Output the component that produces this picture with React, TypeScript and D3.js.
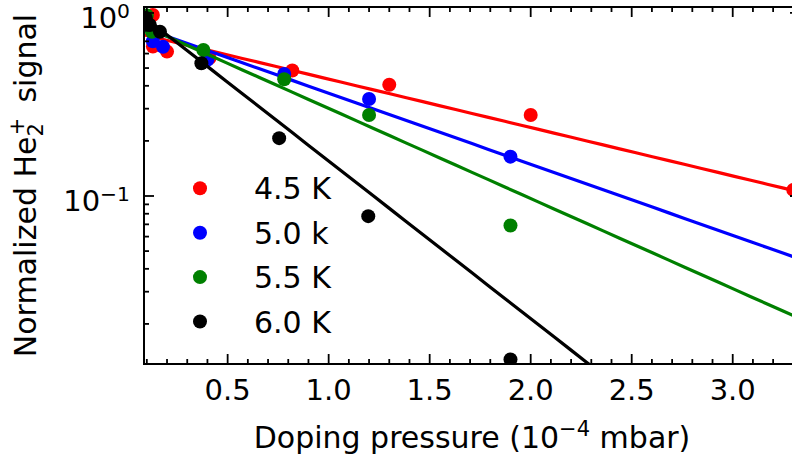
import React from "react";
import * as d3 from "d3";

// Measured He2+ signal vs. doping pressure (1e-4 mbar), one array per temperature
const red45X = [0.13, 0.13, 0.2, 0.41, 0.82, 1.3, 2.0, 3.3];
const red45Y = [0.975, 0.655, 0.615, 0.567, 0.485, 0.405, 0.277, 0.108];
const blue50X = [0.13, 0.18, 0.4, 0.78, 1.2, 1.9];
const blue50Y = [0.7, 0.654, 0.555, 0.464, 0.339, 0.164];
const green55X = [0.1, 0.125, 0.38, 0.78, 1.2, 1.9];
const green55Y = [0.97, 0.79, 0.628, 0.434, 0.277, 0.069];
const black60X = [0.095, 0.115, 0.165, 0.37, 0.755, 1.196, 1.9];
const black60Y = [0.94, 0.86, 0.79, 0.531, 0.207, 0.0776, 0.0128];

// Exponential fits  y = A * exp(-k * p)
const fitA = [0.8, 0.892, 0.935, 1.128];
const fitK = [0.609, 0.8946, 1.1336, 1.983];

const seriesLabels = ["4.5 K", "5.0 k", "5.5 K", "6.0 K"];
const seriesColors = ["#ff0000", "#0000ff", "#008000", "#000000"];

const xMajorTicks = [0.5, 1.0, 1.5, 2.0, 2.5, 3.0];
const yMajorExponents = [-1, 0];

const W = 792;
const H = 459;
const left = 144;
const right = 800;
const top = 7;
const bottom = 364;
const FONT = "'DejaVu Sans', sans-serif";
const FS_TICK = 29;
const FS = 30;

export default function App() {
  const x = d3.scaleLinear().domain([0.086, 3.333]).range([left, right]);
  const y = d3.scaleLog().domain([0.01208, 1.078]).range([bottom, top]);

  const series = [
    { xs: red45X, ys: red45Y },
    { xs: blue50X, ys: blue50Y },
    { xs: green55X, ys: green55Y },
    { xs: black60X, ys: black60Y },
  ];

  const [x0, x1] = x.domain();
  const fitLine = (i: number) => {
    const pts: [number, number][] = d3
      .range(0, 41)
      .map((j) => x0 + ((x1 - x0) * j) / 40)
      .map((p) => [p, fitA[i] * Math.exp(-fitK[i] * p)]);
    return d3
      .line<[number, number]>()
      .x((d) => x(d[0]))
      .y((d) => y(d[1]))(pts) as string;
  };

  const xMinor = d3
    .range(1, 34)
    .map((v) => v / 10)
    .filter((v) => v >= x0 && v <= x1 && Math.abs(v * 2 - Math.round(v * 2)) > 1e-6);
  const yMinor: number[] = [];
  [0.01, 0.1].forEach((dec) => {
    for (let m = 2; m <= 9; m++) {
      const v = dec * m;
      if (v >= y.domain()[0] && v <= y.domain()[1]) yMinor.push(v);
    }
  });
  const yMajor = yMajorExponents.map((e) => Math.pow(10, e));

  const major = 10;
  const minor = 5;
  const tickStroke = { stroke: "#000", strokeWidth: 1.8 };

  return (
    <svg
      width={W}
      height={H}
      style={{ position: "fixed", left: 0, top: 0, background: "#fff" }}
      fontFamily={FONT}
    >
      <defs>
        <clipPath id="plotArea">
          <rect x={left} y={top} width={right - left} height={bottom - top} />
        </clipPath>
      </defs>
      <rect x={0} y={0} width={W} height={H} fill="#fff" />

      <g clipPath="url(#plotArea)">
        {series.map((s, i) => (
          <g key={i}>
            {s.xs.map((xv, j) => (
              <circle key={j} cx={x(xv)} cy={y(s.ys[j])} r={7} fill={seriesColors[i]} />
            ))}
            <path d={fitLine(i)} fill="none" stroke={seriesColors[i]} strokeWidth={3.2} />
          </g>
        ))}
      </g>

      {/* ticks, pointing inward on all four sides */}
      <g>
        {xMajorTicks.map((v) => (
          <g key={"xM" + v}>
            <line x1={x(v)} x2={x(v)} y1={bottom} y2={bottom - major} {...tickStroke} />
            <line x1={x(v)} x2={x(v)} y1={top} y2={top + major} {...tickStroke} />
          </g>
        ))}
        {xMinor.map((v) => (
          <g key={"xm" + v}>
            <line x1={x(v)} x2={x(v)} y1={bottom} y2={bottom - minor} {...tickStroke} />
            <line x1={x(v)} x2={x(v)} y1={top} y2={top + minor} {...tickStroke} />
          </g>
        ))}
        {yMajor.map((v) => (
          <g key={"yM" + v}>
            <line x1={left} x2={left + major} y1={y(v)} y2={y(v)} {...tickStroke} />
            <line x1={right} x2={right - major} y1={y(v)} y2={y(v)} {...tickStroke} />
          </g>
        ))}
        {yMinor.map((v) => (
          <g key={"ym" + v}>
            <line x1={left} x2={left + minor} y1={y(v)} y2={y(v)} {...tickStroke} />
            <line x1={right} x2={right - minor} y1={y(v)} y2={y(v)} {...tickStroke} />
          </g>
        ))}
      </g>

      <rect x={left} y={top} width={right - left} height={bottom - top} fill="none" stroke="#000" strokeWidth={2} />

      {/* tick labels */}
      {xMajorTicks.map((v) => (
        <text key={"xl" + v} x={x(v)} y={400} textAnchor="middle" fontSize={FS_TICK} fill="#000">
          {d3.format(".1f")(v)}
        </text>
      ))}
      {yMajorExponents.map((e) => (
        <text key={"yl" + e} x={130} y={y(Math.pow(10, e)) + 15} textAnchor="end" fontSize={FS_TICK} fill="#000">
          10
          <tspan fontSize={FS_TICK * 0.7} dy={-10}>
            {e < 0 ? "\u2212" + Math.abs(e) : String(e)}
          </tspan>
        </text>
      ))}

      {/* axis titles */}
      <text x={(left + right) / 2} y={448} textAnchor="middle" fontSize={FS} fill="#000">
        Doping pressure (10
        <tspan fontSize={FS * 0.7} dy={-12}>{"\u22124"}</tspan>
        <tspan dy={12}> mbar)</tspan>
      </text>
      <text transform={`translate(36, ${(top + bottom) / 2}) rotate(-90)`} textAnchor="middle" fontSize={FS} fill="#000">
        Normalized He
        <tspan fontSize={FS * 0.7} dy={7}>2</tspan>
        <tspan fontSize={FS * 0.7} dx={-FS * 0.4} dy={-19}>+</tspan>
        <tspan dy={12}>{"\u2002signal"}</tspan>
      </text>

      {/* legend */}
      {seriesLabels.map((lab, i) => (
        <g key={lab} transform={`translate(0, ${188.3 + i * 44.4})`}>
          <circle cx={200} cy={0} r={7} fill={seriesColors[i]} />
          <text x={254} y={11} fontSize={FS} fill="#000">
            {lab}
          </text>
        </g>
      ))}
    </svg>
  );
}
